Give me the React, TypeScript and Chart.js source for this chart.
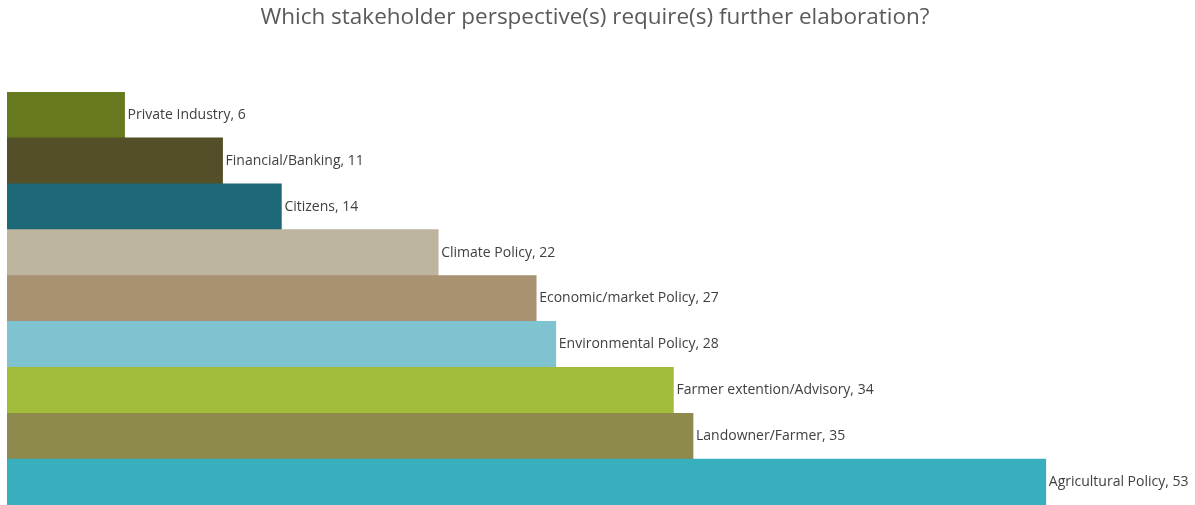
import React, { useEffect, useRef } from "react";
import { Chart, registerables } from "chart.js";

Chart.register(...registerables);

const categories = [
  "Private Industry",
  "Financial/Banking",
  "Citizens",
  "Climate Policy",
  "Economic/market Policy",
  "Environmental Policy",
  "Farmer extention/Advisory",
  "Landowner/Farmer",
  "Agricultural Policy",
];
const values = [6, 11, 14, 22, 27, 28, 34, 35, 53];
const colors = [
  "#687a20",
  "#534f29",
  "#1d6977",
  "#bdb59d",
  "#a89272",
  "#80c3d0",
  "#a1bb3b",
  "#8e8a4d",
  "#37afbd",
];
const titleText = "Which stakeholder perspective(s) require(s) further elaboration?";

const labelPlugin = {
  id: "barLabels",
  afterDatasetsDraw(chart: any) {
    const ctx = chart.ctx;
    const meta = chart.getDatasetMeta(0);
    ctx.save();
    ctx.font = "14px 'Open Sans'";
    ctx.fillStyle = "#404040";
    ctx.textBaseline = "middle";
    ctx.textAlign = "left";
    meta.data.forEach((bar: any, i: number) => {
      ctx.fillText(categories[i] + ", " + values[i], bar.x + 3, bar.y);
    });
    ctx.restore();
  },
};

export default function App() {
  const ref = useRef<HTMLCanvasElement>(null);
  useEffect(() => {
    if (!ref.current) return;
    const chart = new Chart(ref.current, {
      type: "bar",
      data: {
        labels: categories,
        datasets: [
          {
            data: values,
            backgroundColor: colors,
            borderWidth: 0,
            barPercentage: 1,
            categoryPercentage: 1,
          },
        ],
      },
      options: {
        indexAxis: "y",
        animation: false,
        responsive: false,
        maintainAspectRatio: false,
        layout: { padding: { left: 7, right: 12, top: 0, bottom: 0 } },
        scales: {
          x: { display: false, min: 0, max: 60 },
          y: { display: false },
        },
        plugins: {
          legend: { display: false },
          tooltip: { enabled: false },
          title: {
            display: true,
            text: titleText,
            color: "#5a5a5a",
            font: { family: "'Open Sans'", size: 22.5, weight: "normal", lineHeight: 1.2 },
            padding: { top: 4, bottom: 61 },
          },
        },
      },
      plugins: [labelPlugin],
    });
    return () => chart.destroy();
  }, []);
  return (
    <div style={{ position: "absolute", left: 0, top: 0, width: 1195, height: 505, background: "#fff" }}>
      <canvas ref={ref} width={1195} height={505} />
    </div>
  );
}
